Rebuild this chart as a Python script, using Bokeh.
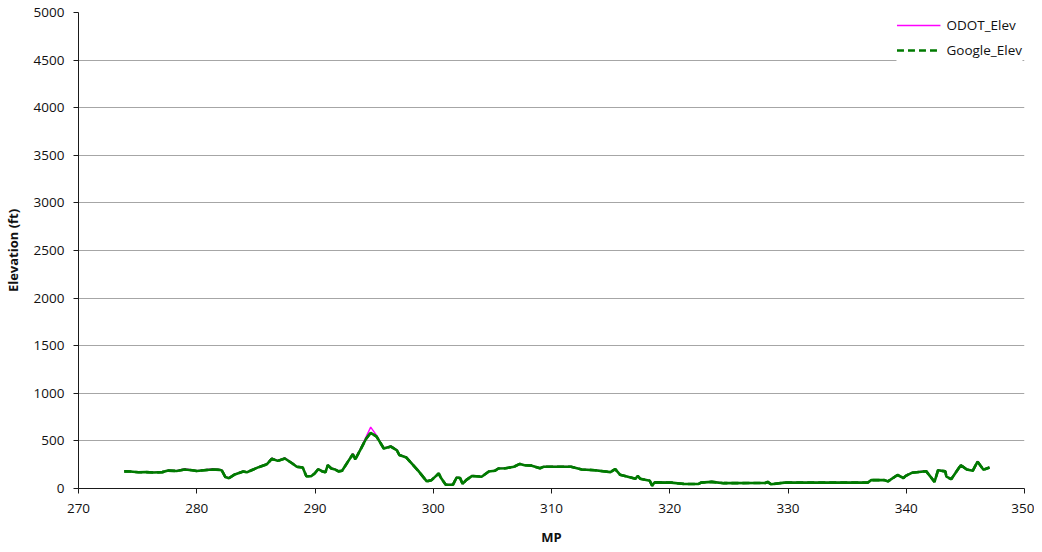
from bokeh.plotting import figure
from bokeh.models import (Range1d, SingleIntervalTicker, Legend, LegendItem,
                          ColumnDataSource)
from bokeh.embed import file_html
from bokeh.resources import INLINE

mp = [273.87, 274.37, 275.07, 275.68, 276.38, 277.08, 277.59, 278.29, 278.99, 279.60,
      280.00, 280.61, 281.31, 281.92, 282.12, 282.42, 282.72, 283.22, 283.93, 284.23,
      284.63, 285.24, 285.94, 286.34, 286.85, 287.45, 288.06, 288.46, 288.96, 289.27,
      289.67, 289.97, 290.27, 290.58, 290.88, 291.08, 291.38, 291.69, 291.99, 292.29,
      292.80, 293.20, 293.40, 293.81, 294.31, 294.71, 295.21, 295.82, 296.42, 296.93,
      297.13, 297.73, 298.74, 299.45, 299.85, 300.15, 300.46, 300.66, 301.06, 301.67,
      301.97, 302.27, 302.48, 302.78, 303.29, 304.09, 304.70, 305.20, 305.51, 306.11,
      306.82, 307.32, 307.72, 308.33, 309.03, 309.34, 311.65, 312.56, 313.67, 314.98,
      315.39, 315.79, 317.10, 317.30, 317.50, 318.31, 318.51, 318.71, 320.12, 321.23,
      322.44, 322.64, 323.55, 324.56, 328.08, 328.28, 328.58, 329.69, 336.74, 337.04,
      338.15, 338.45, 339.26, 339.76, 339.96, 340.47, 341.68, 342.39, 342.69, 343.30,
      343.40, 343.80, 344.61, 345.12, 345.62, 346.03, 346.53, 347.04]

odot_elev = [185, 180, 172, 176, 170, 175, 192, 186, 208, 195,
             186, 195, 207, 200, 196, 126, 112, 150, 182, 172,
             195, 228, 258, 320, 294, 322, 270, 232, 224, 133,
             130, 160, 207, 185, 172, 250, 215, 205, 182, 189,
             290, 370, 311, 410, 540, 645, 557, 425, 448, 406,
             357, 330, 190, 77, 91, 126, 161, 112, 42, 42,
             119, 112, 49, 91, 137, 126, 182, 189, 214, 214,
             231, 262, 248, 242, 215, 231, 231, 203, 196, 175,
             207, 147, 105, 137, 105, 84, 31, 66, 63, 49,
             49, 63, 73, 58, 60, 73, 45, 63, 63, 91,
             91, 77, 147, 112, 137, 168, 186, 73, 196, 182,
             126, 101, 249, 203, 189, 287, 200, 224]

google_elev = [180, 178, 170, 172, 168, 172, 188, 184, 200, 192,
               184, 192, 200, 196, 190, 120, 108, 148, 178, 170,
               192, 224, 255, 312, 290, 315, 265, 228, 220, 128,
               128, 158, 203, 182, 170, 245, 210, 200, 180, 186,
               285, 360, 305, 400, 520, 585, 545, 420, 440, 400,
               352, 325, 185, 75, 88, 122, 158, 110, 40, 40,
               115, 110, 48, 88, 132, 124, 178, 186, 210, 212,
               228, 258, 245, 240, 212, 228, 228, 200, 192, 172,
               203, 145, 102, 133, 102, 82, 30, 64, 62, 48,
               48, 62, 70, 56, 58, 70, 44, 62, 62, 88,
               88, 75, 142, 110, 133, 165, 182, 70, 192, 180,
               124, 98, 245, 200, 186, 282, 198, 220]

FONT = "Open Sans"

p = figure(width=1034, height=548, output_backend="svg", toolbar_location=None,
           x_range=Range1d(270, 350), y_range=Range1d(0, 5000),
           min_border_left=76, min_border_right=10, min_border_top=12,
           min_border_bottom=60)

p.outline_line_color = None
p.background_fill_color = "white"
p.border_fill_color = "white"

p.xaxis.ticker = SingleIntervalTicker(interval=10)
p.yaxis.ticker = SingleIntervalTicker(interval=500)
p.xgrid.grid_line_color = None
p.ygrid.grid_line_color = "#a6a6a6"
p.ygrid.grid_line_width = 1

for ax in (p.xaxis, p.yaxis):
    ax.axis_line_color = "#1a1a1a"
    ax.major_tick_line_color = "#1a1a1a"
    ax.major_tick_in = 0
    ax.major_tick_out = 5
    ax.minor_tick_line_color = None
    ax.major_label_text_font = FONT
    ax.major_label_text_font_size = "13.5px"
    ax.major_label_text_color = "#111111"
    ax.axis_label_text_font = FONT
    ax.axis_label_text_font_size = "13px"
    ax.axis_label_text_font_style = "bold"
    ax.axis_label_text_color = "#111111"

p.xaxis.axis_label = "MP"
p.yaxis.axis_label = "Elevation (ft)"
p.xaxis.major_label_standoff = 10
p.yaxis.major_label_standoff = 9
p.xaxis.axis_label_standoff = 12
p.yaxis.axis_label_standoff = 9

src = ColumnDataSource(dict(mp=mp, odot=odot_elev, google=google_elev))

r_odot = p.line("mp", "odot", source=src, line_color="#ff00ff", line_width=1.4)
r_google = p.line("mp", "google", source=src, line_color="#007a00", line_width=2.6)
r_google_dash = p.line("mp", "google", source=src, line_color="#007a00",
                       line_width=2.6, line_dash="7 4")

legend = Legend(items=[LegendItem(label="ODOT_Elev", renderers=[r_odot]),
                       LegendItem(label="Google_Elev", renderers=[r_google_dash])],
                location="top_right")
legend.border_line_color = None
legend.background_fill_color = "white"
legend.background_fill_alpha = 1
legend.label_text_font = FONT
legend.label_text_font_size = "13.5px"
legend.label_text_color = "#111111"
legend.glyph_width = 44
legend.glyph_height = 22
legend.label_height = 22
legend.label_standoff = 6
legend.spacing = 3
legend.margin = 2
legend.padding = 5
p.add_layout(legend)

open("out.html", "w").write(file_html(p, INLINE))
